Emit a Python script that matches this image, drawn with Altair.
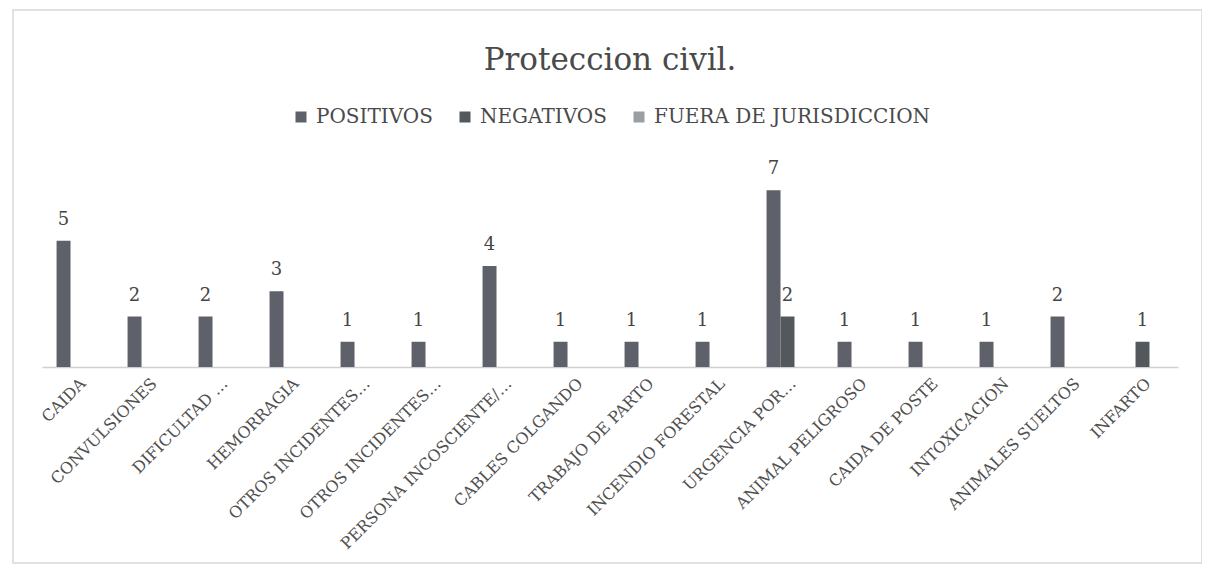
import json
import altair as alt
import pandas as pd

categories = ["CAIDA", "CONVULSIONES", "DIFICULTAD …", "HEMORRAGIA", "OTROS INCIDENTES…",
              "OTROS INCIDENTES…", "PERSONA INCOSCIENTE/…", "CABLES COLGANDO", "TRABAJO DE PARTO",
              "INCENDIO FORESTAL", "URGENCIA POR…", "ANIMAL PELIGROSO", "CAIDA DE POSTE",
              "INTOXICACION", "ANIMALES SUELTOS", "INFARTO"]
positivos = [5, 2, 2, 3, 1, 1, 4, 1, 1, 1, 7, 1, 1, 1, 2, None]
negativos = [None, None, None, None, None, None, None, None, None, None, 2, None, None, None, None, 1]
fuera = [None] * 16
series = ["POSITIVOS", "NEGATIVOS", "FUERA DE JURISDICCION"]
colors = ["#5e6169", "#52585c", "#9b9ea3"]

rows = []
for i in range(len(categories)):
    for s, vals in zip(series, [positivos, negativos, fuera]):
        if vals[i] is not None:
            rows.append({"idx": i, "series": s, "value": vals[i]})
df = pd.DataFrame(rows)

label_expr = json.dumps(categories, ensure_ascii=False).replace('"', "'") + "[datum.value]"
FONT = "DejaVu Serif"
PAD = 0.41

x = alt.X("idx:O", title=None,
          scale=alt.Scale(domain=list(range(len(categories))), paddingInner=PAD, paddingOuter=PAD / 2),
          axis=alt.Axis(labelExpr=label_expr, labelAngle=-45, labelAlign="right", labelBaseline="top",
                        labelFont=FONT, labelFontSize=16, labelColor="#505050", labelPadding=8,
                        ticks=False, domainColor="#cfcfcf", domainWidth=1.5, labelOverlap=False,
                        labelLimit=0))
xo = alt.XOffset("series:N", scale=alt.Scale(domain=series, paddingInner=0, paddingOuter=0))
y = alt.Y("value:Q", scale=alt.Scale(domain=[0, 8]), axis=None)

base = alt.Chart(df)
bars = base.mark_bar().encode(
    x=x, xOffset=xo, y=y,
    color=alt.Color("series:N", scale=alt.Scale(domain=series, range=colors),
                    legend=alt.Legend(title=None, orient="none", direction="horizontal",
                                      legendX=249, legendY=-58, symbolType="square",
                                      symbolSize=121, symbolStrokeWidth=0, labelFont=FONT,
                                      labelFontSize=20, labelColor="#4a4a4a", labelOffset=5,
                                      columnPadding=22, labelLimit=0)),
)
labels = base.mark_text(font=FONT, fontSize=18, color="#454545", baseline="alphabetic", dy=-16).encode(
    x=x, xOffset=xo, y=y, text="value:Q"
)
frame = alt.Chart(alt.Data(values=[{"a": 1}])).mark_rect(
    fillOpacity=0, stroke="#d8d8d8", strokeWidth=1.5
).encode(x=alt.value(-29), x2=alt.value(1160), y=alt.value(-155), y2=alt.value(398))

chart = alt.layer(frame, bars, labels).properties(
    width=1136, height=202,
    title=alt.TitleParams("Proteccion civil.", font=FONT, fontSize=31, color="#4a4a4a",
                          fontWeight="normal", anchor="middle", offset=-68),
    autosize=alt.AutoSizeParams(type="none"),
    padding={"left": 34, "top": 157, "right": 24, "bottom": 198},
    background="white",
).configure_view(stroke="transparent", strokeWidth=0)

chart.save("out.html", embed_options={"renderer": "svg", "actions": False})
